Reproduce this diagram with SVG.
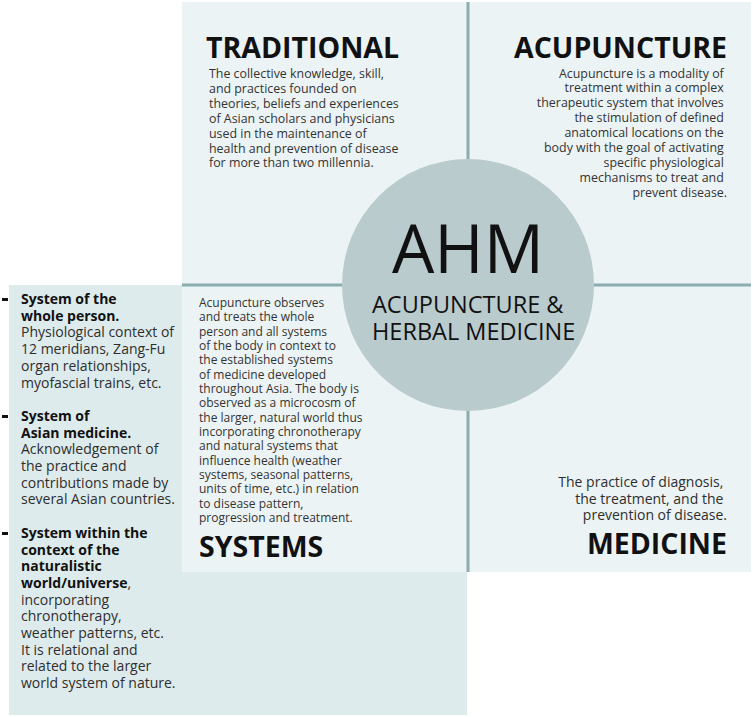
<svg xmlns="http://www.w3.org/2000/svg" width="753" height="717" viewBox="0 0 753 717">
<style>
  .bg{fill:#ffffff}
  .panel{fill:#deebec}
  .quad{fill:#ecf3f5}
  .circle{fill:#b9cbcd}
  .div{stroke:#8aaeae;stroke-width:3;fill:none}
  .h{font-family:"Open Sans","Liberation Sans",sans-serif;font-weight:700;font-size:28.5px;fill:#111}
  .b1{font-family:"Open Sans","Liberation Sans",sans-serif;font-size:12.4px;fill:#333}
  .b2{font-family:"Open Sans","Liberation Sans",sans-serif;font-size:12px;fill:#333}
  .b3{font-family:"Open Sans","Liberation Sans",sans-serif;font-size:14px;fill:#2e2e2e}
  .bold{font-weight:700;fill:#111}
  .end{text-anchor:end}
  .c1{font-family:"Open Sans","Liberation Sans",sans-serif;font-size:67px;fill:#111;text-anchor:middle}
  .c2{font-family:"Open Sans","Liberation Sans",sans-serif;font-size:23.5px;fill:#111}
  .dash{fill:#111}
</style>
<rect class="bg" x="0" y="0" width="753" height="717"/>
<g id="left-panel">
  <rect class="panel" x="9" y="285" width="458" height="430"/>
  <rect class="dash" x="2" y="298" width="6" height="3"/>
  <rect class="dash" x="2" y="415" width="6" height="3"/>
  <rect class="dash" x="2" y="532" width="6" height="3"/>
  <text class="b3">
    <tspan class="bold" x="21" y="304">System of the</tspan>
    <tspan class="bold" x="21" y="320.7">whole person.</tspan>
    <tspan x="21" y="337.4">Physiological context of</tspan>
    <tspan x="21" y="354.1">12 meridians, Zang-Fu</tspan>
    <tspan x="21" y="370.8">organ relationships,</tspan>
    <tspan x="21" y="387.5">myofascial trains, etc.</tspan>
    <tspan class="bold" x="21" y="420.9">System of</tspan>
    <tspan class="bold" x="21" y="437.6">Asian medicine.</tspan>
    <tspan x="21" y="454.3">Acknowledgement of</tspan>
    <tspan x="21" y="471">the practice and</tspan>
    <tspan x="21" y="487.7">contributions made by</tspan>
    <tspan x="21" y="504.4">several Asian countries.</tspan>
    <tspan class="bold" x="21" y="537.8">System within the</tspan>
    <tspan class="bold" x="21" y="554.5">context of the</tspan>
    <tspan class="bold" x="21" y="571.2">naturalistic</tspan>
    <tspan class="bold" x="21" y="587.9">world/universe</tspan><tspan>,</tspan>
    <tspan x="21" y="604.6">incorporating</tspan>
    <tspan x="21" y="621.3">chronotherapy,</tspan>
    <tspan x="21" y="638">weather patterns, etc.</tspan>
    <tspan x="21" y="654.7">It is relational and</tspan>
    <tspan x="21" y="671.4">related to the larger</tspan>
    <tspan x="21" y="688.1">world system of nature.</tspan>
  </text>
</g>
<rect class="quad" x="182" y="2" width="569" height="570"/>
<g id="connectors">
  <line class="div" x1="468" y1="2" x2="468" y2="572"/>
  <line class="div" x1="182" y1="285" x2="751" y2="285"/>
</g>
<g id="traditional">
  <text class="h" x="206" y="58">TRADITIONAL</text>
  <text class="b1">
    <tspan x="209" y="78">The collective knowledge, skill,</tspan>
    <tspan x="209" y="92.9">and practices founded on</tspan>
    <tspan x="209" y="107.8">theories, beliefs and experiences</tspan>
    <tspan x="209" y="122.7">of Asian scholars and physicians</tspan>
    <tspan x="209" y="137.6">used in the maintenance of</tspan>
    <tspan x="209" y="152.5">health and prevention of disease</tspan>
    <tspan x="209" y="167.4">for more than two millennia.</tspan>
  </text>
</g>
<g id="acupuncture">
  <text class="h end" x="727" y="58">ACUPUNCTURE</text>
  <text class="b1 end">
    <tspan x="727" y="77.5">Acupuncture is a modality of</tspan>
    <tspan x="727" y="92.4">treatment within a complex</tspan>
    <tspan x="727" y="107.3">therapeutic system that involves</tspan>
    <tspan x="727" y="122.2">the stimulation of defined</tspan>
    <tspan x="727" y="137.1">anatomical locations on the</tspan>
    <tspan x="727" y="152">body with the goal of activating</tspan>
    <tspan x="727" y="166.9">specific physiological</tspan>
    <tspan x="727" y="181.8">mechanisms to treat and</tspan>
    <tspan x="727" y="196.7">prevent disease.</tspan>
  </text>
</g>
<g id="systems">
  <text class="b2">
    <tspan x="199" y="307">Acupuncture observes</tspan>
    <tspan x="199" y="321.3">and treats the whole</tspan>
    <tspan x="199" y="335.7">person and all systems</tspan>
    <tspan x="199" y="350">of the body in context to</tspan>
    <tspan x="199" y="364.3">the established systems</tspan>
    <tspan x="199" y="378.7">of medicine developed</tspan>
    <tspan x="199" y="393">throughout Asia. The body is</tspan>
    <tspan x="199" y="407.3">observed as a microcosm of</tspan>
    <tspan x="199" y="421.6">the larger, natural world thus</tspan>
    <tspan x="199" y="436">incorporating chronotherapy</tspan>
    <tspan x="199" y="450.3">and natural systems that</tspan>
    <tspan x="199" y="464.6">influence health (weather</tspan>
    <tspan x="199" y="479">systems, seasonal patterns,</tspan>
    <tspan x="199" y="493.3">units of time, etc.) in relation</tspan>
    <tspan x="199" y="507.6">to disease pattern,</tspan>
    <tspan x="199" y="522">progression and treatment.</tspan>
  </text>
  <text class="h" x="199" y="557">SYSTEMS</text>
</g>
<g id="medicine">
  <text class="b3 end">
    <tspan x="727" y="487">The practice of diagnosis,</tspan>
    <tspan x="727" y="503.7">the treatment, and the</tspan>
    <tspan x="727" y="520.4">prevention of disease.</tspan>
  </text>
  <text class="h end" x="727" y="554">MEDICINE</text>
</g>
<g id="ahm">
  <circle class="circle" cx="468" cy="285" r="126"/>
  <text class="c1" x="468" y="273">AHM</text>
  <text class="c2" x="372" y="313">ACUPUNCTURE &amp;</text>
  <text class="c2" x="372" y="340">HERBAL MEDICINE</text>
</g>
</svg>
